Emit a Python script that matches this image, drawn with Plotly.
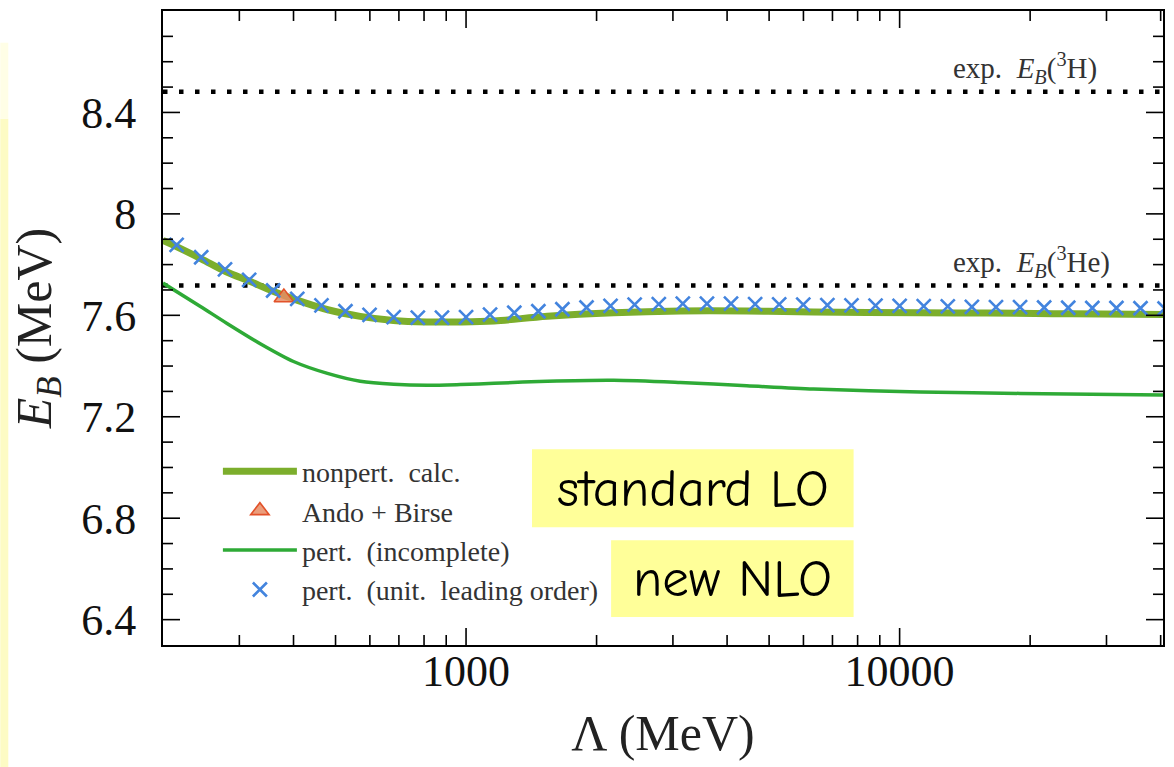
import plotly.graph_objects as go

# Cutoff values (MeV) and binding energies (MeV)
lam_nonpert = [200, 216, 245, 279, 317, 360, 409, 480, 570, 680, 810, 970,
               1160, 1540, 2190, 3120, 4440, 6330, 11150, 15900, 25000, 40500]
e_nonpert = [7.895, 7.869, 7.823, 7.773, 7.734, 7.694, 7.659, 7.622, 7.596, 7.580, 7.574, 7.574,
             7.578, 7.596, 7.610, 7.617, 7.617, 7.613, 7.610, 7.609, 7.606, 7.603]

lam_pert = [200, 244, 281, 336, 400, 479, 570, 681, 814, 970, 1160, 1540, 2190,
            3120, 4440, 6330, 11150, 18960, 40500]
e_pert = [7.727, 7.635, 7.568, 7.487, 7.418, 7.371, 7.340, 7.328, 7.324, 7.327, 7.332, 7.340, 7.344,
          7.335, 7.322, 7.309, 7.298, 7.292, 7.286]

lam_ulo = [215, 245, 278, 316, 359, 408, 464, 527, 599, 681, 774, 880,
           1000, 1136, 1292, 1468, 1668, 1896, 2154, 2448, 2783, 3162, 3594, 4084,
           4642, 5275, 5995, 6813, 7743, 8799, 10000, 11365, 12915, 14678, 16681, 18957,
           21544, 24484, 27826, 31623, 35938, 40842]
e_ulo = [7.878, 7.829, 7.781, 7.740, 7.698, 7.665, 7.639, 7.616, 7.602, 7.593, 7.591, 7.591,
         7.593, 7.603, 7.610, 7.616, 7.624, 7.631, 7.637, 7.642, 7.644, 7.646, 7.646, 7.646,
         7.644, 7.643, 7.642, 7.640, 7.639, 7.638, 7.637, 7.636, 7.635, 7.633, 7.632, 7.632,
         7.631, 7.630, 7.629, 7.629, 7.628, 7.627]

lam_ando = [380]
e_ando = [7.67]

exp_h3 = 8.482
exp_he3 = 7.718

x_range = [200, 40500]
x_ticks = [1000, 10000]
x_ticktext = ["1000", "10000"]
x_minor = [300, 400, 500, 600, 700, 800, 900, 2000, 3000, 4000, 5000, 6000, 7000, 8000, 9000,
           20000, 30000, 40000]
y_ticks = [6.4, 6.8, 7.2, 7.6, 8.0, 8.4]
y_ticktext = ["6.4", "6.8", "7.2", "7.6", "8", "8.4"]
y_minor = [6.5, 6.6, 6.7, 6.9, 7.0, 7.1, 7.3, 7.4, 7.5, 7.7, 7.8, 7.9, 8.1, 8.2, 8.3, 8.5, 8.6, 8.7]

SERIF = "Liberation Serif"
C_NONPERT = "#7cae2c"
C_PERT = "#2eaa36"
C_ULO = "#4384de"
LOG_RANGE = [2.30103, 4.60746]
MAJOR_LEN, MINOR_LEN = 17, 10

fig = go.Figure()

# experimental binding energies (dotted)
for val in (exp_h3, exp_he3):
    fig.add_trace(go.Scatter(
        x=x_range, y=[val, val], mode="lines", showlegend=False, hoverinfo="skip",
        line=dict(color="black", width=4.5, dash="4.5px,11.5px")))

fig.add_trace(go.Scatter(
    x=lam_nonpert, y=e_nonpert, mode="lines", name="nonpert.\u00a0 calc.",
    line=dict(color=C_NONPERT, width=7, shape="spline", smoothing=1.0)))

fig.add_trace(go.Scatter(
    x=lam_ando, y=e_ando, mode="markers", name="Ando + Birse",
    marker=dict(symbol="triangle-up", size=17, color="rgba(232,140,100,0.85)",
                line=dict(color="#e2522a", width=1.6))))

fig.add_trace(go.Scatter(
    x=lam_pert, y=e_pert, mode="lines", name="pert.\u00a0 (incomplete)",
    line=dict(color=C_PERT, width=3.5, shape="spline", smoothing=0.8)))

fig.add_trace(go.Scatter(
    x=lam_ulo, y=e_ulo, mode="markers", name="pert.\u00a0 (unit.\u00a0 leading order)",
    marker=dict(symbol="x-thin", size=14, color=C_ULO,
                line=dict(color=C_ULO, width=2.6))))

axis_common = dict(
    showline=True, linecolor="black", linewidth=1.8, mirror=True,
    ticks="", showgrid=False, zeroline=False,
    tickfont=dict(family=SERIF, size=44, color="#111"),
)

fig.update_layout(
    xaxis=dict(
        type="log", range=LOG_RANGE,
        tickvals=x_ticks, ticktext=x_ticktext, ticklabelstandoff=-14,
        title=dict(text="\u039b (MeV)", font=dict(family=SERIF, size=50, color="#222"), standoff=20),
        **axis_common),
    yaxis=dict(
        range=[6.3, 8.8], tickvals=y_ticks, ticktext=y_ticktext, ticklabelstandoff=16,
        title=dict(text="<i>E</i><sub><i>B</i></sub> (MeV)",
                   font=dict(family=SERIF, size=50, color="#222"), standoff=14),
        **axis_common),
)

# inward tick marks on all four sides, sized in pixels
tick_line = dict(color="black", width=1.6)
for vals, ln in ((x_ticks, MAJOR_LEN), (x_minor, MINOR_LEN)):
    for v in vals:
        fig.add_shape(type="line", xref="x", yref="paper", ysizemode="pixel", yanchor=0,
                      x0=v, x1=v, y0=0, y1=ln, line=tick_line, layer="above")
        fig.add_shape(type="line", xref="x", yref="paper", ysizemode="pixel", yanchor=1,
                      x0=v, x1=v, y0=0, y1=-ln, line=tick_line, layer="above")
for vals, ln in ((y_ticks, MAJOR_LEN), (y_minor, MINOR_LEN)):
    for v in vals:
        fig.add_shape(type="line", xref="paper", yref="y", xsizemode="pixel", xanchor=0,
                      x0=0, x1=ln, y0=v, y1=v, line=tick_line, layer="above")
        fig.add_shape(type="line", xref="paper", yref="y", xsizemode="pixel", xanchor=1,
                      x0=0, x1=-ln, y0=v, y1=v, line=tick_line, layer="above")

# experimental value labels
for txt, yv in (("exp.\u00a0 <i>E</i><sub><i>B</i></sub>(<sup>3</sup>H)", 8.575),
                ("exp.\u00a0 <i>E</i><sub><i>B</i></sub>(<sup>3</sup>He)", 7.81)):
    fig.add_annotation(x=0.788, y=yv, xref="paper", yref="y", text=txt, showarrow=False,
                       xanchor="left", yanchor="middle",
                       font=dict(family=SERIF, size=29, color="#333"))

# highlighted notes
notes = [("standard LO", 0.369, 0.6906, 0.1858, 0.3087),
         ("new NLO", 0.4481, 0.6906, 0.0441, 0.1654)]
for txt, x0, x1, y0, y1 in notes:
    fig.add_shape(type="rect", xref="paper", yref="paper", x0=x0, x1=x1, y0=y0, y1=y1,
                  fillcolor="#ffff99", line=dict(width=0), layer="above")
    fig.add_annotation(x=(x0 + x1) / 2, y=(y0 + y1) / 2, xref="paper", yref="paper",
                       text=txt, showarrow=False, xanchor="center", yanchor="middle",
                       font=dict(family="Comic Sans MS, Comic Neue, Noto Sans, sans-serif",
                                 size=53, color="black"))

# pale strip along the left page edge
fig.add_shape(type="rect", xref="paper", yref="paper", x0=-0.1627, x1=-0.1547,
              y0=-0.2, y1=0.83, fillcolor="#fdfbc4", line=dict(width=0), layer="below")
fig.add_shape(type="rect", xref="paper", yref="paper", x0=-0.1627, x1=-0.1547,
              y0=0.83, y1=0.95, fillcolor="#fffee6", line=dict(width=0), layer="below")

fig.update_layout(
    width=1174, height=767,
    margin=dict(l=163, r=9, t=10, b=122),
    paper_bgcolor="white", plot_bgcolor="white",
    font=dict(family=SERIF),
    legend=dict(x=0.0549, y=0.313, xanchor="left", yanchor="top",
                bgcolor="rgba(0,0,0,0)", font=dict(family=SERIF, size=28, color="#333"),
                itemwidth=74, tracegroupgap=0),
)

fig.write_html("out.html")
